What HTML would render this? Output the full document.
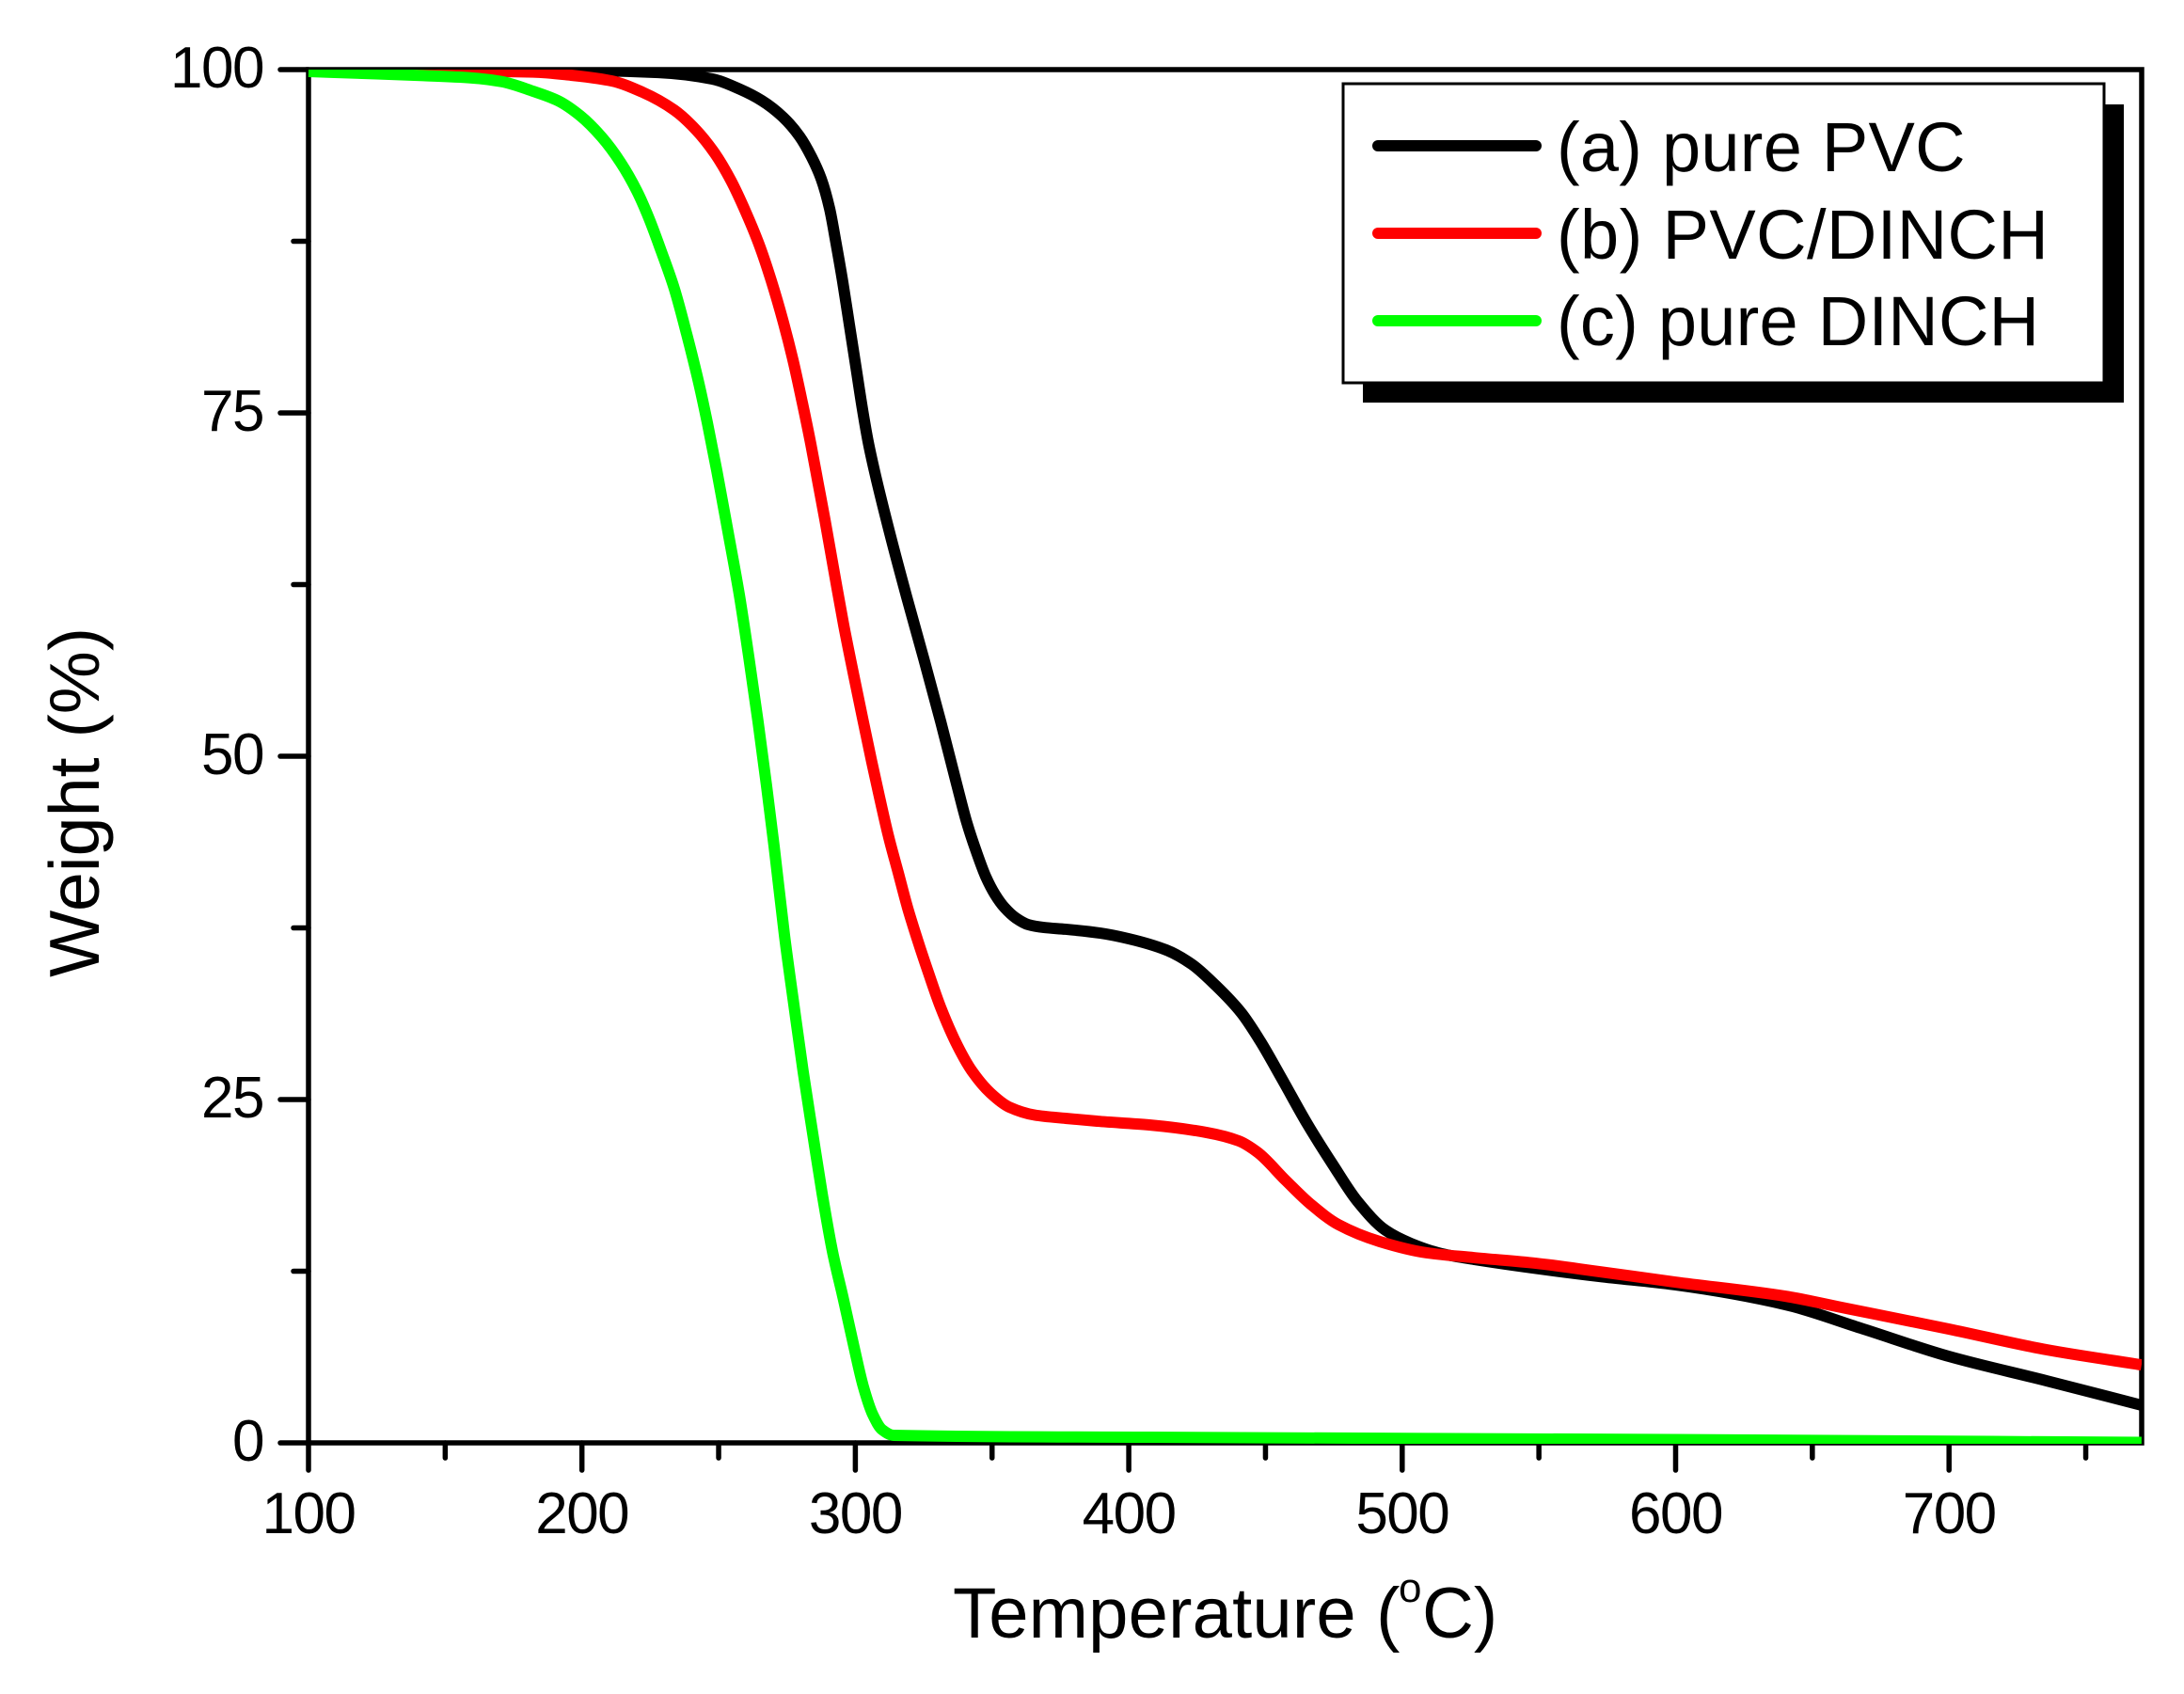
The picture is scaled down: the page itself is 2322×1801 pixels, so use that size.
<!DOCTYPE html>
<html lang="en">
<head>
<meta charset="utf-8">
<title>TGA curves of PVC and DINCH</title>
<style>
html,body{margin:0;padding:0;background:#fff;}
svg{display:block;}
text{font-family:"Liberation Sans",Arial,sans-serif;fill:#000;}
</style>
</head>
<body>
<svg id="chart" xmlns="http://www.w3.org/2000/svg" width="2322" height="1801" viewBox="0 0 2322 1801">
  <defs>
    <clipPath id="plot-clip"><rect x="327" y="74" width="1950" height="1461"></rect></clipPath>
  </defs>
  <rect x="0" y="0" width="2322" height="1801" fill="#fff"></rect>
  <g id="axes"></g>
  <rect x="328" y="74" width="1949" height="1460" fill="none" stroke="#000" stroke-width="5.5"></rect>
  <g id="series" clip-path="url(#plot-clip)"></g>

  <text x="1013" y="1741" font-size="76" letter-spacing="0.2">Temperature (</text>
  <text x="1487" y="1703" font-size="44">o</text>
  <text x="1512" y="1741" font-size="76">C)</text>
  <text transform="translate(105,1039) rotate(-90)" x="0" y="0" font-size="75.5">Weight (%)</text>

  <g>
    <rect x="1449" y="111" width="809" height="317" fill="#000"></rect>
    <rect x="1428" y="89" width="809" height="318" fill="#fff" stroke="#000" stroke-width="3"></rect>
    <line x1="1465" y1="155" x2="1633" y2="155" stroke="#000" stroke-width="12" stroke-linecap="round"></line>
    <line x1="1465" y1="248" x2="1633" y2="248" stroke="#f00" stroke-width="12" stroke-linecap="round"></line>
    <line x1="1465" y1="341" x2="1633" y2="341" stroke="#0f0" stroke-width="12" stroke-linecap="round"></line>
    <text x="1655" y="182" font-size="74" letter-spacing="0.25">(a) pure PVC</text>
    <text x="1655" y="275" font-size="74" letter-spacing="0.4">(b) PVC/DINCH</text>
    <text x="1655" y="367" font-size="74" letter-spacing="0.25">(c) pure DINCH</text>
  </g>
</svg>
<script>
var xMajorTicks = [100, 200, 300, 400, 500, 600, 700];
var xMinorTicks = [150, 250, 350, 450, 550, 650, 750];
var yMajorTicks = [0, 25, 50, 75, 100];
var yMinorTicks = [12.5, 37.5, 62.5, 87.5];

var tempPvc = [100, 190, 228, 247.6, 257.9, 265.8, 273.7, 279.6, 284, 287.5, 290.6, 292.9, 295.4, 297.8, 300.2, 302.6, 304.7, 307.1, 312.6, 318.8, 325, 331.2, 337, 340.8, 344.2, 347.7, 351.1, 354.6, 358.7, 363.2, 369, 376.9, 389.6, 400, 413.7, 423, 431.9, 441.2, 448.1, 456, 465.3, 474.6, 483.6, 493.9, 503.2, 514.5, 526.2, 572, 599.8, 640.1, 667.6, 699.9, 735.7, 770.4];
var weightPvc = [100, 99.97, 99.79, 99.32, 98.56, 97.74, 96.51, 95.14, 93.63, 92.05, 89.86, 87.4, 84.52, 81.44, 78.36, 75.27, 72.88, 70.68, 66.23, 61.58, 57.12, 52.53, 48.01, 45.14, 43.08, 41.23, 39.93, 38.97, 38.22, 37.74, 37.53, 37.40, 37.12, 36.71, 35.89, 34.86, 33.29, 31.30, 29.25, 26.51, 23.22, 20.27, 17.60, 15.48, 14.52, 13.77, 13.36, 12.12, 11.51, 10.07, 8.36, 6.30, 4.52, 2.74];

var tempBlend = [100, 182.2, 196, 210.8, 222.1, 233.8, 241.7, 248.6, 254.5, 260, 264.8, 269.2, 273.7, 277.2, 280.6, 283.7, 286.4, 288.9, 292.3, 295.7, 299.2, 302.6, 306, 308.8, 312.2, 315.7, 319.1, 322.6, 326.7, 331.2, 337.4, 342.5, 349.4, 356.3, 365.6, 376.9, 388.6, 407.5, 428.5, 440.2, 447.1, 457.4, 466.4, 476.7, 491.8, 509, 526.2, 548.9, 572, 599.8, 640.1, 660.7, 699.9, 735.7, 770.4];
var weightBlend = [100, 99.82, 99.59, 99.18, 98.36, 97.05, 95.62, 93.90, 91.92, 89.59, 87.26, 84.66, 81.58, 78.84, 75.75, 72.74, 69.86, 67.19, 63.36, 59.59, 56.10, 52.81, 49.59, 47.05, 44.11, 41.51, 38.97, 36.71, 34.25, 31.71, 28.90, 27.12, 25.48, 24.45, 23.87, 23.63, 23.42, 23.15, 22.60, 21.99, 21.16, 19.11, 17.40, 15.89, 14.66, 13.84, 13.49, 13.08, 12.47, 11.71, 10.68, 9.86, 8.29, 6.78, 5.68];

var tempDinch = [100, 124.8, 142, 159.2, 170.5, 182.2, 191.2, 199.4, 207.3, 214.2, 220.1, 224.5, 229, 233.8, 238.3, 242.8, 245.9, 249.3, 253.4, 257.6, 261, 264.4, 267.5, 270.3, 274.1, 277.5, 280.9, 284.4, 287.8, 291.6, 295.7, 299.5, 302.9, 306.4, 309.8, 314, 407.5, 599.8, 770.4];
var weightDinch = [99.86, 99.69, 99.56, 99.40, 99.13, 98.42, 97.74, 96.64, 95.07, 93.22, 91.16, 89.18, 86.78, 84.04, 80.75, 77.12, 74.25, 70.82, 66.37, 61.71, 57.26, 52.53, 47.88, 43.42, 36.92, 31.92, 27.05, 22.53, 18.22, 13.97, 10.41, 6.99, 4.11, 2.05, 0.96, 0.55, 0.41, 0.24, 0.03];

var NS = 'http://www.w3.org/2000/svg';

function xScale(t) {
  return 328 + (t - 100) * 2.907;
}
function yScale(w) {
  return 1534 - w * 14.6;
}

/* Monotone cubic path through the points, so nothing overshoots across wide gaps. */
function smoothPath(ts, ws) {
  var px = ts.map(xScale);
  var py = ws.map(yScale);
  var n = px.length;
  var sec = [];
  for (var i = 0; i < n - 1; i++) {
    sec.push((py[i + 1] - py[i]) / (px[i + 1] - px[i]));
  }
  var m = [sec[0]];
  for (var j = 1; j < n - 1; j++) {
    if (sec[j - 1] * sec[j] <= 0) {
      m.push(0);
    } else {
      var h0 = px[j] - px[j - 1];
      var h1 = px[j + 1] - px[j];
      var w1 = 2 * h1 + h0;
      var w2 = h1 + 2 * h0;
      m.push((w1 + w2) / (w1 / sec[j - 1] + w2 / sec[j]));
    }
  }
  m.push(sec[n - 2]);
  var d = 'M' + px[0].toFixed(2) + ' ' + py[0].toFixed(2);
  for (var k = 0; k < n - 1; k++) {
    var h = (px[k + 1] - px[k]) / 3;
    d += 'C' + (px[k] + h).toFixed(2) + ' ' + (py[k] + m[k] * h).toFixed(2) + ' ' + (px[k + 1] - h).toFixed(2) + ' ' + (py[k + 1] - m[k + 1] * h).toFixed(2) + ' ' + px[k + 1].toFixed(2) + ' ' + py[k + 1].toFixed(2);
  }
  return d;
}

var axesGroup = document.getElementById('axes');
var seriesGroup = document.getElementById('series');

function addTick(x1, y1, x2, y2) {
  var tick = document.createElementNS(NS, 'line');
  tick.setAttribute('x1', x1);
  tick.setAttribute('y1', y1);
  tick.setAttribute('x2', x2);
  tick.setAttribute('y2', y2);
  tick.setAttribute('stroke', '#000');
  tick.setAttribute('stroke-width', '5.5');
  tick.setAttribute('stroke-linecap', 'round');
  
  
  axesGroup.appendChild(tick);
}

function addLabel(x, y, anchor, value) {
  var label = document.createElementNS(NS, 'text');
  label.setAttribute('x', x);
  label.setAttribute('y', y);
  label.setAttribute('text-anchor', anchor);
  label.setAttribute('font-size', '62');
  label.setAttribute('letter-spacing', '-1.5');
  
  
  label.textContent = value;
  axesGroup.appendChild(label);
}

xMajorTicks.forEach(function (t) {
  addTick(xScale(t), 1534, xScale(t), 1563);
  addLabel(xScale(t), 1630, 'middle', String(t));
});
xMinorTicks.forEach(function (t) {
  addTick(xScale(t), 1534, xScale(t), 1550);
});
yMajorTicks.forEach(function (w) {
  addTick(328, yScale(w), 298, yScale(w));
  addLabel(280, yScale(w) + 19, 'end', String(w));
});
yMinorTicks.forEach(function (w) {
  addTick(328, yScale(w), 312, yScale(w));
});

function addSeries(name, color, ts, ws) {
  var path = document.createElementNS(NS, 'path');
  path.setAttribute('d', smoothPath(ts, ws));
  path.setAttribute('fill', 'none');
  path.setAttribute('stroke', color);
  path.setAttribute('stroke-width', '12');
  path.setAttribute('stroke-linejoin', 'round');
  
  
  seriesGroup.appendChild(path);
}

addSeries('curve-pure-pvc', '#000', tempPvc, weightPvc);
addSeries('curve-pvc-dinch', '#f00', tempBlend, weightBlend);
addSeries('curve-pure-dinch', '#0f0', tempDinch, weightDinch);
</script>
</body>
</html>
